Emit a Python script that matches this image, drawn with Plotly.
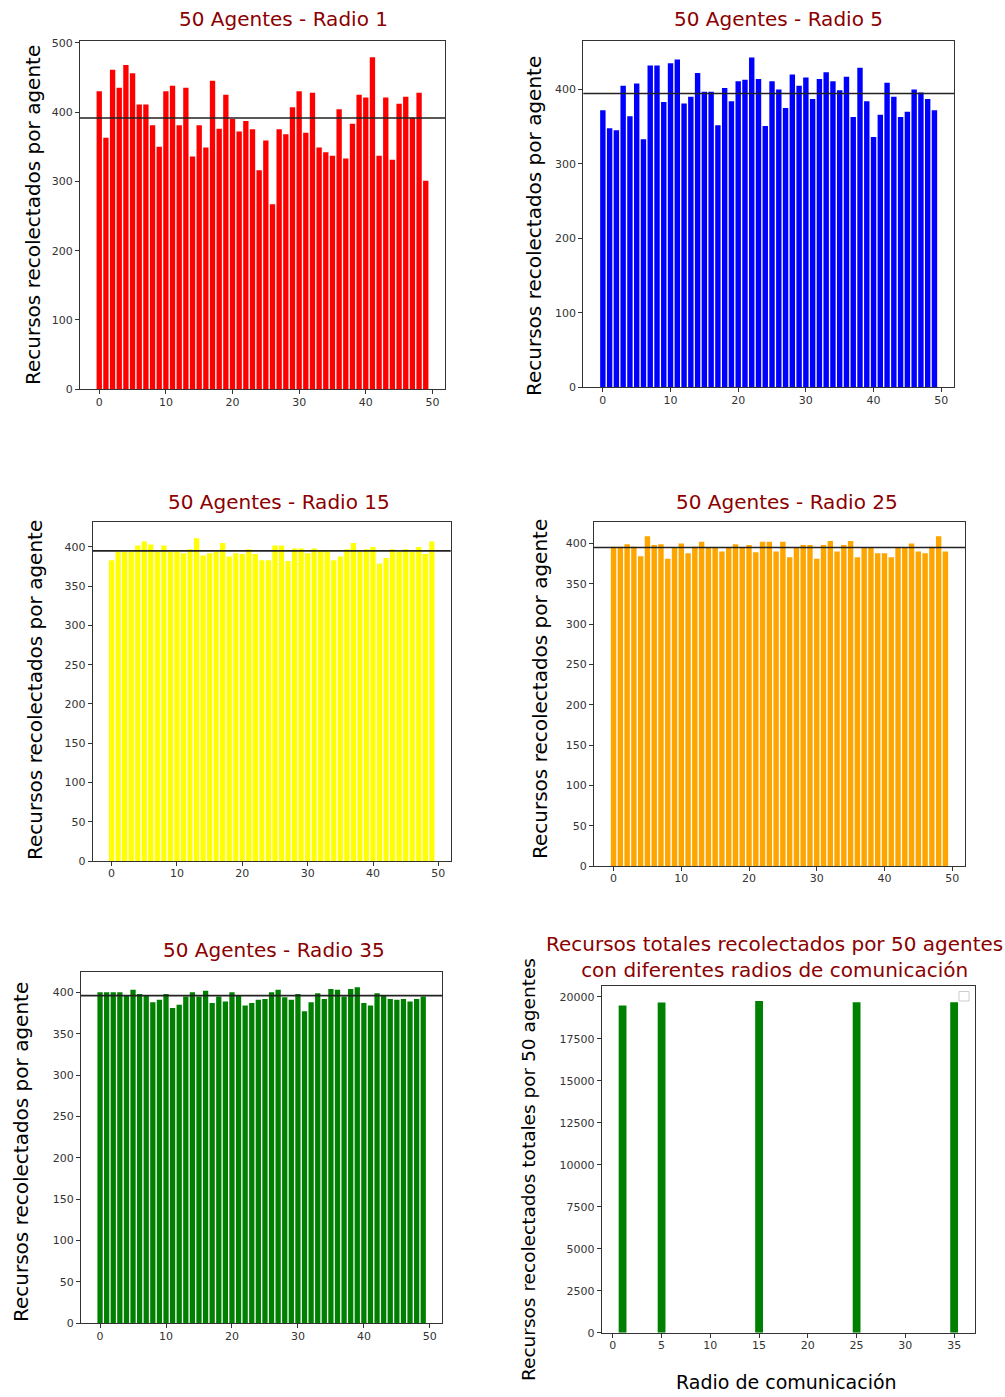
import plotly.graph_objects as go

W, H = 1005, 1397

agentes = list(range(50))

radio1 = [430, 363, 461, 435, 468, 456, 411, 411, 381, 350,
          430, 438, 381, 435, 336, 381, 349, 445, 376, 425,
          390, 372, 387, 375, 316, 359, 267, 375, 368, 407,
          430, 370, 428, 349, 342, 337, 404, 333, 383, 425,
          421, 479, 337, 421, 331, 412, 422, 392, 428, 301]

radio5 = [372, 348, 345, 405, 364, 408, 333, 432, 432, 383,
          435, 440, 381, 390, 422, 397, 397, 352, 402, 384,
          411, 413, 443, 414, 351, 411, 400, 375, 420, 405,
          416, 387, 414, 423, 411, 399, 417, 363, 429, 384,
          336, 366, 409, 390, 363, 370, 400, 396, 387, 372]

radio15 = [383, 394, 394, 394, 402, 407, 403, 394, 402, 394,
           394, 392, 397, 411, 389, 392, 394, 405, 388, 392,
           391, 397, 391, 383, 383, 402, 402, 382, 398, 398,
           392, 398, 395, 395, 383, 388, 397, 405, 394, 397,
           400, 379, 386, 397, 394, 397, 394, 400, 391, 407]

radio25 = [396, 396, 399, 396, 384, 409, 398, 399, 381, 395,
           400, 388, 396, 402, 395, 395, 390, 395, 399, 395,
           398, 389, 402, 402, 390, 402, 383, 395, 398, 398,
           381, 398, 403, 390, 398, 403, 383, 395, 395, 388,
           388, 383, 395, 395, 400, 390, 388, 396, 409, 390]

radio35 = [400, 400, 400, 400, 396, 403, 398, 396, 388, 391,
           398, 381, 385, 395, 400, 395, 402, 387, 395, 389,
           400, 396, 384, 387, 391, 392, 400, 403, 394, 391,
           398, 377, 388, 399, 392, 404, 403, 395, 404, 406,
           387, 384, 399, 396, 392, 391, 392, 389, 392, 395]

medias = [391.5, 394.5, 395, 395, 396]

radios = [1, 5, 15, 25, 35]
totales = [19470, 19660, 19740, 19670, 19670]

titulos = ["50 Agentes - Radio 1", "50 Agentes - Radio 5", "50 Agentes - Radio 15",
           "50 Agentes - Radio 25", "50 Agentes - Radio 35"]
titulo_total = "Recursos totales recolectados por 50 agentes<br>con diferentes radios de comunicación"
ylabel = "Recursos recolectados por agente"
ylabel_total = "Recursos recolectados totales por 50 agentes"
xlabel_total = "Radio de comunicación"

series = [radio1, radio5, radio15, radio25, radio35]
colores = ["#FF0000", "#0000FF", "#FFFF00", "#FFA500", "#008000"]

# frame (left, top, right, bottom) in pixels
frames = [(80, 41, 445, 389.3), (583.3, 41, 954, 387.3), (92.7, 521.7, 450.7, 861),
          (594, 521.7, 965, 866), (81, 971.7, 442.3, 1323.3), (601.7, 985.7, 975, 1332.7)]
yranges = [[0, 502.5], [0, 465], [0, 432.2], [0, 427], [0, 424.9], [0, 20655]]
ydticks = [100, 100, 50, 50, 50, 2500]
title_pos = [(283, 19), (778, 19), (279, 502), (787, 502), (274, 950)]
ylabel_pos = [(33, 215), (534, 226), (35, 690), (540, 689), (21, 1152)]

FONT = "DejaVu Sans"
TITLE_COLOR = "#8B0000"
AX_COLOR = "#333333"

def px(x):
    return x / W

def py(y):
    return 1 - y / H

fig = go.Figure()
layout = dict(width=W, height=H, autosize=False,
              margin=dict(l=0, r=0, t=0, b=0, pad=0, autoexpand=False),
              paper_bgcolor="white", plot_bgcolor="white", showlegend=False,
              font=dict(family=FONT, color=AX_COLOR))
annotations = []
shapes = []

for i in range(6):
    n = i + 1
    xa = "x" if n == 1 else f"x{n}"
    ya = "y" if n == 1 else f"y{n}"
    l, t, r, b = frames[i]
    if i < 5:
        fig.add_trace(go.Bar(x=agentes, y=series[i], width=0.8,
                             marker=dict(color=colores[i], line=dict(width=0)),
                             xaxis=xa, yaxis=ya))
        xr = [-2.89, 51.89]
        xdt = 10
    else:
        fig.add_trace(go.Bar(x=radios, y=totales, width=0.8,
                             marker=dict(color="#008000", line=dict(width=0)),
                             xaxis=xa, yaxis=ya))
        xr = [-1.14, 37.14]
        xdt = 5
    axkey_x = "xaxis" if n == 1 else f"xaxis{n}"
    axkey_y = "yaxis" if n == 1 else f"yaxis{n}"
    common = dict(showgrid=False, zeroline=False, showline=True, mirror=True,
                  linecolor=AX_COLOR, linewidth=1, ticks="outside", ticklen=4,
                  tickwidth=1, tickcolor=AX_COLOR, automargin=False,
                  tickfont=dict(family=FONT, size=11, color=AX_COLOR))
    layout[axkey_x] = dict(domain=[px(l), px(r)], range=xr, dtick=xdt, tick0=0,
                           anchor=ya, ticklabelstandoff=-2, **common)
    layout[axkey_y] = dict(domain=[py(b), py(t)], range=yranges[i], dtick=ydticks[i],
                           tick0=0, anchor=xa, tickformat="d", **common)
    if i < 5:
        shapes.append(dict(type="line", xref=f"{xa} domain", yref=ya,
                           x0=0, x1=1, y0=medias[i], y1=medias[i],
                           line=dict(color="#222222", width=1.6)))
        tx, ty = title_pos[i]
        annotations.append(dict(text=titulos[i], x=px(tx), y=py(ty), xref="paper", yref="paper",
                                showarrow=False, xanchor="center", yanchor="middle",
                                font=dict(family=FONT, size=20, color=TITLE_COLOR)))
        lx, ly = ylabel_pos[i]
        annotations.append(dict(text=ylabel, x=px(lx), y=py(ly), xref="paper", yref="paper",
                                showarrow=False, xanchor="center", yanchor="middle", textangle=-90,
                                font=dict(family=FONT, size=20, color="black")))

# panel 6 texts
annotations.append(dict(text=titulo_total, x=px(774), y=py(957), xref="paper", yref="paper",
                        showarrow=False, xanchor="center", yanchor="middle",
                        font=dict(family=FONT, size=20, color=TITLE_COLOR)))
annotations.append(dict(text=ylabel_total, x=px(528), y=py(1170), xref="paper", yref="paper",
                        showarrow=False, xanchor="center", yanchor="middle", textangle=-90,
                        font=dict(family=FONT, size=18.5, color="black")))
annotations.append(dict(text=xlabel_total, x=px(786), y=py(1382), xref="paper", yref="paper",
                        showarrow=False, xanchor="center", yanchor="middle",
                        font=dict(family=FONT, size=19, color="black")))
# empty legend box
shapes.append(dict(type="rect", xref="paper", yref="paper",
                   x0=px(959), x1=px(969), y0=py(1001), y1=py(991.5),
                   line=dict(color="#cccccc", width=1), fillcolor="white"))

layout["annotations"] = annotations
layout["shapes"] = shapes
fig.update_layout(**layout)
fig.write_html("out.html", config={"responsive": False})
